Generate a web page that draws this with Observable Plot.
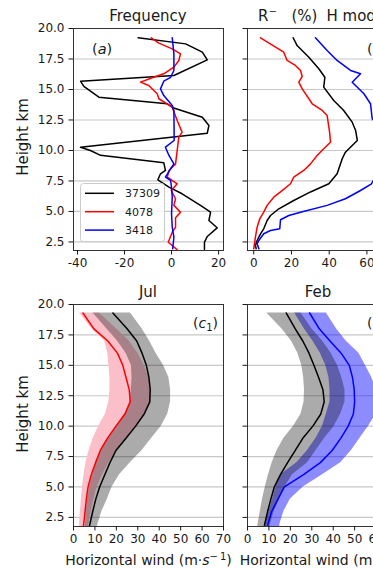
<!DOCTYPE html>
<html><head><meta charset="utf-8">
<script src="https://cdn.jsdelivr.net/npm/d3@7"></script>
<script src="https://cdn.jsdelivr.net/npm/@observablehq/plot@0.6"></script>
<style>
body{margin:0;background:#fff;}
#fig{position:relative;width:373px;height:569px;overflow:hidden;background:#fff;}
</style></head><body><div id="fig"></div>
<script>
// ---------- Panel (a): Frequency ----------
const freqH_37309 = [19.24,18.74,18.06,17.43,16.15,15.68,15.25,14.37,13.83,13.5,12.73,12.05,11.42,10.27,10.0,9.6,9.0,8.36,8.09,7.6,7.0,6.45,5.5,4.94,4.26,3.66,2.95,2.48,1.9];
const freqV_37309 = [-14.2,6.0,13.1,15.2,1.0,-38.7,-37.3,-30.9,-1.8,0.6,13.1,15.9,15.2,-38.7,-34.5,-30.2,-3.3,-2.6,-4.7,-5.8,-1.1,4.5,12.3,16.6,15.9,19.4,15.2,14.0,14.0];
const freqH_4078 = [19.24,18.8,18.33,17.92,17.38,16.83,16.29,15.96,15.6,15.33,14.65,14.24,13.55,12.46,11.5,11.1,10.0,8.9,8.36,7.81,7.27,6.72,6.04,5.5,4.94,4.48,3.71,3.3,2.48,2.21,1.86];
const freqV_4078 = [-8.6,-5.4,0.3,3.8,3.1,1.0,-3.3,-8.2,-13.2,-9.7,-6.1,-5.4,0.3,2.4,4.5,3.1,2.4,1.7,-1.1,-1.8,2.4,-0.1,1.7,1.0,3.8,1.7,1.7,0.3,-1.4,0.3,2.4];
const freqH_3418 = [19.24,17.92,16.56,16.0,15.68,15.05,14.5,13.69,13.28,11.4,10.82,10.27,9.59,8.9,8.5,7.81,7.54,7.13,6.17,4.81,3.71,2.89,1.94];
const freqV_3418 = [0.3,1.0,1.0,-0.4,-3.3,-4.7,-3.3,0.3,1.0,1.1,1.1,-2.6,-1.1,1.0,-0.4,-2.6,-0.4,-0.1,0.3,0.0,0.3,1.0,0.5];

// ---------- Panel (b): R- (%) H mode ----------
const rH_4078 = [19.24,18.06,17.38,16.97,16.56,16.07,15.6,15.05,13.83,13.28,12.87,11.5,10.68,10.14,9.59,8.9,8.36,7.81,7.27,6.6,6.17,5.5,4.94,4.4,3.71,2.89,1.94];
const rV_4078 = [3.6,15.9,17.7,22.1,24.8,25.7,23.9,25.7,31.0,36.3,38.9,40.2,40.7,37.1,33.6,30.1,26.5,21.2,19.5,14.2,10.6,7.1,5.3,3.2,1.8,0.9,0.0];
const rH_37309 = [19.24,18.6,17.65,16.7,16.0,15.19,14.1,13.28,12.32,11.64,10.82,10.41,9.86,9.32,8.09,7.27,6.6,5.9,5.22,4.67,4.26,3.58,3.17,2.62,2.21,1.94];
const rV_37309 = [20.9,23.0,29.2,34.5,37.7,37.1,42.4,47.7,52.2,54.0,54.9,52.2,48.6,46.9,44.2,39.8,30.1,21.2,13.3,8.9,7.1,5.3,3.6,1.8,0.9,1.3];
const rH_3418 = [19.24,18.2,17.38,16.56,16.29,15.88,15.6,14.65,13.83,12.6,11.5,10.5,9.5,8.5,7.27,6.72,6.04,5.5,4.94,4.67,4.32,3.58,3.44,3.17,2.62,2.35,1.94];
const rV_3418 = [32.7,38.9,44.2,51.3,56.6,54.0,52.2,58.4,61.9,62.8,69,72.5,71,67,62.4,56.6,48.6,38.9,24.8,18.6,14.2,13.8,8.9,5.3,2.7,1.8,2.7];

// ---------- Panels (c1) Jul, (c2) Feb: horizontal wind ----------
const windH = [19.3,18,17,16,15,14,13,12,11,10,9,8,7,6,5,4,3,2,1.75];
const julMeanK = [18.4,25,29.5,32,34,35.2,35.8,35.6,33,29,24.5,19.8,17,14.6,12.2,10.4,9,7.7,7.4];
const julLoK   = [9.1,15.5,20.5,24.5,27,27.3,27,26.3,24,20,16,13,10.5,9,7.5,6.6,6,5.6,5.5];
const julHiK   = [26.6,32,35.5,38.5,42,44.5,45.3,45.3,44,41,36.5,32,26.5,21.5,18,15.8,13.3,11.5,11.2];
const julMeanR = [4.4,9.5,16,20.5,23,24.5,26,26.5,24,19.8,15.8,12.5,10.3,8.3,6.8,6,5.4,4.8,4.6];
const julLoR   = [2.8,8.5,14.5,16,16.5,17,17,16.5,14.9,11.8,9.2,7.3,5.8,4.9,4.2,3.7,3.2,2.9,2.8];
const julHiR   = [12,20,26,30,33,35,36.2,36,33.5,29,24.5,20,16.5,13.5,11,9.5,8.3,7.2,7];
const febMeanK = [18.1,22.3,25.8,28.7,31,33.2,35.2,35.8,34.2,30.5,25.8,22.3,18.7,15.3,12.5,10.9,9.4,8.1,7.8];
const febLoK   = [9,16,20.5,23.5,25.3,26.2,26.6,26.4,25,21.5,17,13.8,11.5,9.8,8.3,7,6,5,4.8];
const febHiK   = [25,30,35,39,42,44,45.5,45.5,43.5,40.5,36,32,28,21,17.5,15,12.5,10.8,10.5];
const febMeanB = [29,33.5,38.5,43.7,47.5,49,49.8,50,49.4,47,43.5,39.5,34,26,17.2,14.2,11.3,9.6,9.4];
const febLoB   = [22,26.5,30.5,34,36.5,38,38.5,38.5,36.8,35,32,28,23,15.5,13.3,11.7,10,8.4,8];
const febHiB   = [36.8,41.5,46,52,55,58,60,61,60,56.5,52.5,48.5,43.5,35,26,20,17,15.2,15];

// ---------- ticks & labels ----------
const yTicks = [2.5,5,7.5,10,12.5,15,17.5,20];
const freqTicks = [-40,-20,0,20];
const rTicks = [0,20,40,60];
const windTicks = [0,10,20,30,40,50,60,70];
const legendNames = ["37309","4078","3418"];
const legendColors = ["black","red","blue"];

const FONT = "DejaVu Sans, Liberation Sans, sans-serif";
const fig = document.getElementById("fig");
const pts = (hs, vs) => hs.map((h, i) => ({h, v: vs[i]}));
const bandPts = (hs, lo, hi) => hs.map((h, i) => ({h, lo: lo[i], hi: hi[i]}));
const hyph = d => d < 0 ? "-" + (-d) : String(d);

function panel(left, top, xDomain, xTicks, yDomain, showY, marks) {
  const mL = 60, mR = 20, mT = 10, mB = 40, W = 150, H = 222;
  const svg = Plot.plot({
    width: W + mL + mR, height: H + mT + mB,
    marginLeft: mL, marginRight: mR, marginTop: mT, marginBottom: mB,
    x: {domain: xDomain}, y: {domain: yDomain},
    style: {fontFamily: FONT, fontSize: "12px", color: "#1a1a1a", background: "transparent", overflow: "visible"},
    marks: [
      Plot.gridY(yTicks, {stroke: "#c8c8c8", strokeOpacity: 1, strokeWidth: 1.2}),
      ...marks,
      Plot.frame({stroke: "#333", strokeWidth: 1}),
      Plot.axisY(yTicks, {tickSize: 4.5, tickPadding: 4.5, tickFormat: showY ? d3.format(".1f") : () => "", label: null}),
      Plot.axisX(xTicks, {tickSize: 4.5, tickPadding: 3.5, tickFormat: hyph, label: null})
    ]
  });
  svg.style.position = "absolute";
  svg.style.left = (left - mL) + "px";
  svg.style.top = (top - mT) + "px";
  svg.style.maxWidth = "none";
  fig.appendChild(svg);
}

const lw = 1.5;
// (a)
panel(73, 28, [-41.7, 22.1], freqTicks, [1.8, 20], true, [
  Plot.line(pts(freqH_37309, freqV_37309), {x: "v", y: "h", stroke: "black", strokeWidth: lw, clip: true}),
  Plot.line(pts(freqH_4078, freqV_4078), {x: "v", y: "h", stroke: "red", strokeWidth: lw, clip: true}),
  Plot.line(pts(freqH_3418, freqV_3418), {x: "v", y: "h", stroke: "blue", strokeWidth: lw, clip: true})
]);
// (b)
panel(247, 28, [-3.3, 76.2], rTicks, [1.8, 20], false, [
  Plot.line(pts(rH_4078, rV_4078), {x: "v", y: "h", stroke: "red", strokeWidth: lw, clip: true}),
  Plot.line(pts(rH_37309, rV_37309), {x: "v", y: "h", stroke: "black", strokeWidth: lw, clip: true}),
  Plot.line(pts(rH_3418, rV_3418), {x: "v", y: "h", stroke: "blue", strokeWidth: lw, clip: true})
]);
// (c1) Jul
panel(73, 304, [0, 70], windTicks, [1.75, 20], true, [
  Plot.areaX(bandPts(windH, julLoR, julHiR), {y: "h", x1: "lo", x2: "hi", fill: "#fbbfca", clip: true}),
  Plot.areaX(bandPts(windH, julLoK, julHiK), {y: "h", x1: "lo", x2: "hi", fill: "black", fillOpacity: 0.33, clip: true}),
  Plot.line(pts(windH, julMeanR), {x: "v", y: "h", stroke: "red", strokeWidth: lw, clip: true}),
  Plot.line(pts(windH, julMeanK), {x: "v", y: "h", stroke: "black", strokeWidth: lw, clip: true})
]);
// (c2) Feb
panel(247, 304, [0, 70], windTicks, [1.75, 20], false, [
  Plot.areaX(bandPts(windH, febLoB, febHiB), {y: "h", x1: "lo", x2: "hi", fill: "blue", fillOpacity: 0.45, clip: true}),
  Plot.areaX(bandPts(windH, febLoK, febHiK), {y: "h", x1: "lo", x2: "hi", fill: "black", fillOpacity: 0.33, clip: true}),
  Plot.line(pts(windH, febMeanK), {x: "v", y: "h", stroke: "black", strokeWidth: lw, clip: true}),
  Plot.line(pts(windH, febMeanB), {x: "v", y: "h", stroke: "blue", strokeWidth: lw, clip: true})
]);

// ---------- text overlay: titles, labels, legend ----------
const NS = "http://www.w3.org/2000/svg";
const ov = d3.select(fig).append("svg")
  .attr("width", 373).attr("height", 569)
  .style("position", "absolute").style("left", "0px").style("top", "0px")
  .style("font-family", FONT).style("fill", "#1a1a1a");

function txt(x, y, size, anchor) {
  return ov.append("text").attr("x", x).attr("y", y).attr("font-size", size).attr("text-anchor", anchor || "middle");
}
txt(148, 20.6, 15).text("Frequency");
const tb = txt(258, 20.6, 15, "start");
tb.append("tspan").text("R");
tb.append("tspan").attr("dy", -6).attr("font-size", 10).text("\u2212");
tb.append("tspan").attr("x", 291.5).attr("dy", 6).text("(%)");
tb.append("tspan").attr("x", 326.5).text("H mode");
txt(148, 296.7, 15).text("Jul");
txt(318, 296.7, 15).text("Feb");

// y labels
[137, 414].forEach(cy => {
  ov.append("text").attr("transform", `translate(28,${cy}) rotate(-90)`)
    .attr("text-anchor", "middle").attr("font-size", 15).text("Height km");
});
// x labels
[148.5, 323].forEach(cx => {
  const t = txt(cx, 565, 14);
  t.append("tspan").text("Horizontal wind (m\u00b7");
  t.append("tspan").attr("font-style", "italic").text("s");
  t.append("tspan").attr("dy", -5).attr("font-size", 10).text("\u2212\u20091");
  t.append("tspan").attr("dy", 5).text(")");
});
// panel letters
const ta = txt(92, 54, 14.5, "start");
ta.append("tspan").text("(");
ta.append("tspan").attr("font-style", "italic").text("a");
ta.append("tspan").text(")");
const tbb = txt(367, 54, 14.5, "start");
tbb.append("tspan").text("(");
tbb.append("tspan").attr("font-style", "italic").text("b");
tbb.append("tspan").text(")");
[[193, "1"], [367, "2"]].forEach(([x, s]) => {
  const t = txt(x, 328, 14, "start");
  t.append("tspan").text("(");
  t.append("tspan").attr("font-style", "italic").text("c");
  t.append("tspan").attr("dy", 3).attr("font-size", 10).text(s);
  t.append("tspan").attr("dy", -3).text(")");
});

// legend
ov.append("rect").attr("x", 80.5).attr("y", 183.5).attr("width", 84).attr("height", 58).attr("rx", 3)
  .attr("fill", "white").attr("fill-opacity", 0.8).attr("stroke", "#cccccc");
legendNames.forEach((name, i) => {
  const y = 193.3 + i * 18.4;
  ov.append("line").attr("x1", 85).attr("x2", 114).attr("y1", y).attr("y2", y)
    .attr("stroke", legendColors[i]).attr("stroke-width", 1.5);
  txt(125, y + 4, 11, "start").text(name);
});
</script></body></html>
